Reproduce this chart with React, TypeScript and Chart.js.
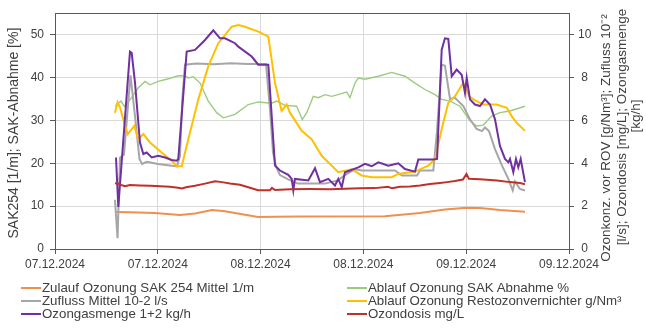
import React, { useEffect, useRef } from "react";
import { Chart, registerables } from "chart.js";

Chart.register(...registerables);

// ---------- axis ticks ----------
const xTickHours = [0, 12, 24, 36, 48, 60];
const xTickLabels = ["07.12.2024", "07.12.2024", "08.12.2024", "08.12.2024", "09.12.2024", "09.12.2024"];
const leftTicks = [0, 10, 20, 30, 40, 50];
const rightTicks = [0, 2, 4, 6, 8, 10];

// ---------- series (x in hours since 07.12.2024 00:00) ----------
// Zulauf Ozonung SAK 254 Mittel 1/m (left axis)
const orangeHours = [7.0, 8.75, 11.67, 14.59, 16.34, 18.33, 19.84, 22.18, 23.7, 25.68, 28.6, 38.52, 42.61, 45.52, 48.06, 49.61, 51.94, 54.86];
const orangeValues = [8.65, 8.55, 8.4, 7.95, 8.3, 9.1, 8.8, 8.0, 7.45, 7.5, 7.6, 7.65, 8.4, 9.2, 9.6, 9.55, 9.1, 8.7];

// Ablauf Ozonung SAK Abnahme % (left axis)
const greenHours = [7.0, 7.7, 8.09, 8.95, 9.72, 10.51, 11.09, 12.06, 13.23, 14.39, 15.17, 15.56, 16.14, 16.93, 17.89, 18.87, 19.65, 21.01, 22.56, 23.73, 25.29, 25.88, 26.85, 28.21, 28.87, 29.38, 30.15, 30.73, 31.52, 32.3, 34.05, 34.43, 35.02, 35.4, 36.19, 37.74, 39.3, 40.85, 42.02, 43.19, 44.36, 45.14, 46.11, 47.27, 48.44, 49.22, 50.0, 50.97, 51.94, 53.11, 54.86];
const greenValues = [33.3, 34.5, 33.3, 35.3, 37.6, 39.1, 38.3, 39.1, 39.7, 40.4, 40.4, 39.9, 40.2, 38.7, 34.5, 31.8, 30.6, 31.4, 33.7, 34.3, 34.0, 34.5, 33.5, 33.3, 30.2, 31.8, 35.6, 35.3, 36.0, 35.6, 36.6, 35.3, 38.7, 39.9, 39.6, 40.3, 41.2, 40.3, 38.7, 37.2, 36.0, 34.9, 34.5, 33.3, 29.9, 28.7, 28.9, 31.0, 31.8, 32.2, 33.3];

// Zufluss Mittel 10-2 l/s (right axis)
const grayHours = [7.0, 7.3, 7.59, 8.05, 8.81, 9.34, 9.86, 10.16, 10.74, 12.02, 13.42, 14.24, 14.59, 14.86, 15.17, 16.5, 18.5, 20.5, 22.5, 24.63, 25.1, 25.45, 25.8, 26.26, 27.23, 28.36, 31.52, 33.03, 33.85, 35.02, 35.84, 39.69, 40.5, 42.26, 42.61, 44.16, 44.59, 45.14, 45.52, 46.11, 46.69, 47.66, 48.44, 49.22, 49.84, 50.19, 50.66, 51.36, 52.18, 52.92, 53.43, 53.69, 54.28, 54.86];
const grayValues = [2.3, 0.5, 4.27, 4.4, 8.1, 6.2, 4.2, 3.97, 4.07, 3.97, 3.9, 3.85, 4.35, 6.98, 8.6, 8.65, 8.62, 8.66, 8.63, 8.63, 6.5, 4.5, 3.85, 3.45, 3.25, 3.05, 3.05, 3.2, 3.45, 3.72, 3.66, 3.66, 3.43, 3.43, 3.66, 3.66, 5.5, 8.6, 8.55, 7.0, 7.05, 6.67, 6.05, 5.6, 5.5, 5.67, 5.5, 4.66, 3.89, 3.27, 2.73, 3.15, 2.8, 2.73];

// Ablauf Ozonung Restozonvernichter g/Nm³ (right axis)
const yellowHours = [7.0, 7.3, 7.59, 7.97, 8.49, 9.26, 9.72, 10.31, 11.09, 12.45, 13.62, 14.21, 14.79, 15.56, 16.73, 17.89, 19.06, 20.63, 21.4, 22.18, 23.73, 24.9, 25.68, 26.45, 27.04, 27.43, 28.8, 29.96, 31.13, 33.07, 34.63, 35.8, 36.97, 39.3, 40.07, 42.02, 43.57, 44.36, 45.14, 45.91, 46.69, 47.66, 48.36, 48.83, 50.0, 51.56, 52.73, 53.31, 53.89, 54.86];
const yellowValues = [6.36, 6.85, 6.6, 6.05, 5.36, 5.74, 5.12, 5.36, 4.97, 4.5, 4.12, 3.86, 3.86, 5.12, 6.98, 8.52, 9.6, 10.37, 10.45, 10.37, 10.14, 9.91, 7.75, 6.44, 6.74, 6.36, 5.51, 5.12, 4.35, 3.58, 3.72, 3.43, 3.35, 3.35, 3.5, 3.61, 3.89, 4.2, 5.6, 6.82, 7.13, 7.75, 7.13, 6.98, 6.74, 6.74, 6.59, 6.2, 5.89, 5.51];

// Ozongasmenge 1+2 kg/h (right axis)
const purpleHours = [7.12, 7.39, 8.75, 8.95, 9.34, 9.92, 10.31, 10.7, 11.29, 12.06, 12.84, 13.62, 14.21, 14.39, 15.37, 16.34, 16.93, 17.51, 18.48, 19.26, 19.84, 21.01, 21.4, 22.96, 23.73, 24.9, 25.68, 26.26, 27.23, 27.63, 27.82, 28.0, 29.57, 30.35, 30.93, 31.9, 32.68, 33.07, 33.47, 33.85, 34.43, 35.4, 36.19, 36.97, 37.74, 38.91, 40.07, 40.85, 42.02, 42.41, 44.16, 44.6, 45.14, 45.52, 45.91, 46.31, 46.89, 47.47, 47.86, 48.06, 48.44, 49.02, 49.61, 50.19, 50.78, 51.36, 51.94, 52.53, 52.92, 53.11, 53.5, 53.81, 54.08, 54.36, 54.86];
const purpleValues = [4.27, 1.96, 9.21, 9.15, 7.75, 4.97, 4.43, 4.5, 4.27, 4.35, 4.27, 4.15, 4.12, 4.2, 9.21, 9.29, 9.52, 9.75, 10.2, 9.83, 9.83, 9.6, 9.44, 8.98, 8.6, 8.6, 3.89, 3.66, 3.46, 3.27, 2.73, 3.27, 3.2, 3.77, 3.12, 3.27, 2.96, 3.27, 2.88, 3.58, 3.66, 3.81, 3.97, 3.86, 4.04, 3.89, 4.0, 3.73, 3.61, 4.17, 4.17, 4.2, 9.3, 9.83, 9.8, 8.06, 8.37, 8.13, 7.28, 7.98, 6.98, 6.74, 6.67, 6.98, 6.74, 6.05, 4.81, 4.2, 4.04, 4.2, 3.58, 4.2, 3.81, 4.2, 3.12];

// Ozondosis mg/L (right axis)
const redHours = [7.0, 7.35, 7.82, 8.17, 8.75, 9.92, 11.09, 12.26, 13.42, 14.36, 14.82, 15.29, 16.34, 17.51, 18.68, 19.49, 20.43, 21.59, 22.76, 23.7, 25.1, 25.33, 25.68, 27.43, 29.77, 32.1, 33.85, 35.6, 37.36, 38.87, 39.34, 40.27, 41.44, 42.61, 43.77, 44.94, 45.76, 46.69, 47.62, 48.03, 48.32, 49.61, 51.59, 53.11, 54.28, 54.86];
const redValues = [3.07, 3.05, 2.97, 2.93, 2.98, 2.96, 2.95, 2.93, 2.9, 2.86, 2.82, 2.88, 2.95, 3.05, 3.16, 3.12, 3.06, 3.0, 2.86, 2.74, 2.74, 2.85, 2.75, 2.79, 2.8, 2.79, 2.81, 2.83, 2.84, 2.9, 2.83, 2.9, 2.92, 2.96, 3.03, 3.08, 3.12, 3.17, 3.24, 3.5, 3.28, 3.25, 3.2, 3.12, 3.08, 3.02];

// ---------- legend ----------
const seriesLabels = [
  "Zulauf Ozonung SAK 254 Mittel 1/m",
  "Ablauf Ozonung SAK Abnahme %",
  "Zufluss Mittel 10-2 l/s",
  "Ablauf Ozonung Restozonvernichter g/Nm³",
  "Ozongasmenge 1+2 kg/h",
  "Ozondosis mg/L",
];
const seriesColors = ["#F0904E", "#9CCB80", "#A6A6A6", "#FFC000", "#7030A0", "#C0302B"];
const seriesWidths = [2, 1.4, 2, 2, 2, 2];
const seriesAxes = ["yL", "yL", "yR", "yR", "yR", "yR"];

const leftTitle = "SAK254 [1/m]; SAK-Abnahme [%]";
const rightTitleLines = ["Ozonkonz. vor ROV [g/Nm³]; Zufluss 10⁻²", "[l/s]; Ozondosis [mg/L]; Ozongasmenge", "[kg/h]"];

const FONT = "'Liberation Sans', Arial, Helvetica, sans-serif";
const TEXT = "#404040";
const AXIS = "#595959";
const GRID = "#D9D9D9";

function pts(h: number[], v: number[]) {
  return h.map((x, i) => ({ x, y: v[i] }));
}

const decorPlugin = {
  id: "decor",
  afterDraw(chart: any) {
    const { ctx, chartArea: a } = chart;
    ctx.save();
    ctx.strokeStyle = AXIS;
    ctx.lineWidth = 1;
    ctx.strokeRect(Math.round(a.left) + 0.5, Math.round(a.top) + 0.5, Math.round(a.right - a.left), Math.round(a.bottom - a.top));
    ctx.fillStyle = TEXT;
    ctx.textAlign = "center";
    ctx.textBaseline = "middle";
    // left title
    ctx.font = `14px ${FONT}`;
    ctx.save();
    ctx.translate(14, (a.top + a.bottom) / 2 + 2);
    ctx.rotate(-Math.PI / 2);
    ctx.fillText(leftTitle, 0, 0);
    ctx.restore();
    // right title
    ctx.font = `13.5px ${FONT}`;
    const rx = [a.right + 37, a.right + 53, a.right + 67];
    const ry = [138, 127, 116];
    rightTitleLines.forEach((t, i) => {
      ctx.save();
      ctx.translate(rx[i], ry[i]);
      ctx.rotate(-Math.PI / 2);
      ctx.fillText(t, 0, 0);
      ctx.restore();
    });
    ctx.restore();
  },
};

export default function App() {
  const ref = useRef<HTMLCanvasElement | null>(null);

  useEffect(() => {
    if (!ref.current) return;
    const data = [
      pts(orangeHours, orangeValues),
      pts(greenHours, greenValues),
      pts(grayHours, grayValues),
      pts(yellowHours, yellowValues),
      pts(purpleHours, purpleValues),
      pts(redHours, redValues),
    ];
    const chart = new Chart(ref.current, {
      type: "line",
      data: {
        datasets: data.map((d, i) => ({
          label: seriesLabels[i],
          data: d,
          borderColor: seriesColors[i],
          backgroundColor: seriesColors[i],
          borderWidth: seriesWidths[i],
          pointRadius: 0,
          tension: 0,
          yAxisID: seriesAxes[i],
          order: 6 - i,
        })),
      },
      options: {
        animation: false,
        responsive: false,
        devicePixelRatio: 1,
        layout: { padding: { top: 11, left: 0, right: 0, bottom: 0 } },
        plugins: { legend: { display: false }, tooltip: { enabled: false } },
        scales: {
          x: {
            type: "linear",
            min: 0,
            max: 60,
            afterBuildTicks: (s: any) => {
              s.ticks = xTickHours.map((v) => ({ value: v }));
            },
            afterFit: (s: any) => {
              s.height = 80;
            },
            ticks: {
              autoSkip: false,
              maxRotation: 0,
              padding: 3,
              color: TEXT,
              font: { family: FONT, size: 12 },
              callback: (v: any) => xTickLabels[xTickHours.indexOf(Number(v))] ?? "",
            },
            grid: { color: GRID, tickColor: AXIS, tickLength: 5 },
            border: { display: false },
          },
          yL: {
            type: "linear",
            position: "left",
            min: 0,
            max: 55,
            afterBuildTicks: (s: any) => {
              s.ticks = leftTicks.map((v) => ({ value: v }));
            },
            afterFit: (s: any) => {
              s.width = 55;
            },
            ticks: { padding: 6, color: TEXT, font: { family: FONT, size: 12 } },
            grid: { color: GRID, tickColor: AXIS, tickLength: 5 },
            border: { display: false },
          },
          yR: {
            type: "linear",
            position: "right",
            min: 0,
            max: 11,
            afterBuildTicks: (s: any) => {
              s.ticks = rightTicks.map((v) => ({ value: v }));
            },
            afterFit: (s: any) => {
              s.width = 77;
            },
            ticks: { padding: 4, crossAlign: "center", color: TEXT, font: { family: FONT, size: 12 } },
            grid: { drawOnChartArea: false, color: GRID, tickColor: AXIS, tickLength: 5 },
            border: { display: false },
          },
        },
      },
      plugins: [decorPlugin],
    } as any);
    return () => chart.destroy();
  }, []);

  const legendCols = [21, 347];
  const legendRows = [287.5, 300.5, 313.5];

  return (
    <div style={{ position: "absolute", left: 0, top: 0, width: 646, height: 329, background: "#fff" }}>
      <canvas ref={ref} width={646} height={329} style={{ position: "absolute", left: 0, top: 0, width: 646, height: 329 }} />
      {seriesLabels.map((lab, i) => {
        const col = i % 2;
        const row = Math.floor(i / 2);
        return (
          <div
            key={i}
            style={{
              position: "absolute",
              left: legendCols[col],
              top: legendRows[row] - 7,
              height: 14,
              lineHeight: "14px",
              fontFamily: FONT,
              fontSize: "13.3px",
              color: TEXT,
              whiteSpace: "nowrap",
              display: "flex",
              alignItems: "center",
            }}
          >
            <span style={{ display: "inline-block", width: 20, height: 2, background: seriesColors[i], marginRight: 1 }} />
            <span>{lab}</span>
          </div>
        );
      })}
    </div>
  );
}
